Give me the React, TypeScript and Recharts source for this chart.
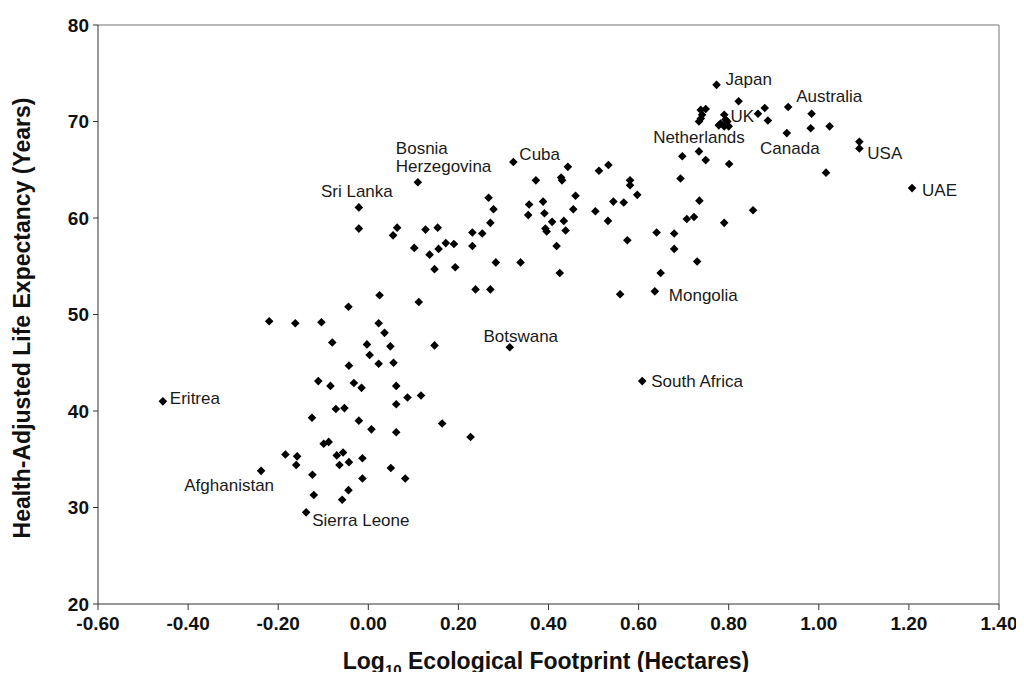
import React from "react";
import {
  ScatterChart,
  Scatter,
  XAxis,
  YAxis,
  ReferenceLine,
} from "recharts";

// log10 ecological footprint (hectares), health-adjusted life expectancy (years)
const countries: [number, number][] = [
  [-0.22, 49.3], [-0.162, 49.1], [-0.104, 49.2], [-0.044, 50.8], [0.023, 49.1],
  [0.025, 52.0], [0.036, 48.1], [-0.08, 47.1], [-0.003, 46.9], [0.003, 45.8],
  [0.023, 44.9], [0.049, 46.7], [0.056, 45.0], [-0.043, 44.7], [-0.111, 43.1],
  [-0.084, 42.6], [-0.032, 42.9], [-0.015, 42.4], [0.062, 42.6], [0.062, 40.7],
  [-0.072, 40.2], [-0.053, 40.3], [-0.125, 39.3], [-0.021, 39.0], [0.007, 38.1],
  [0.062, 37.8], [-0.099, 36.6], [-0.088, 36.8], [-0.184, 35.5], [-0.158, 35.3],
  [-0.16, 34.4], [-0.07, 35.4], [-0.056, 35.7], [-0.064, 34.4], [-0.043, 34.7],
  [-0.013, 35.1], [-0.124, 33.4], [-0.013, 33.0], [-0.121, 31.3], [-0.044, 31.8],
  [-0.058, 30.8], [0.05, 34.1], [0.082, 33.0], [0.112, 51.3], [0.147, 46.8],
  [0.087, 41.4], [0.117, 41.6], [0.164, 38.7], [0.227, 37.3],
  [-0.021, 58.9], [0.064, 59.0], [0.055, 58.2], [0.127, 58.8], [0.154, 59.0],
  [0.102, 56.9], [0.136, 56.2], [0.156, 56.8], [0.172, 57.4], [0.19, 57.3],
  [0.147, 54.7], [0.193, 54.9], [0.231, 58.5], [0.253, 58.4], [0.231, 57.1],
  [0.267, 62.1], [0.278, 60.9], [0.271, 59.5], [0.283, 55.4], [0.338, 55.4],
  [0.238, 52.6], [0.271, 52.6], [0.372, 63.9], [0.357, 61.4], [0.355, 60.3],
  [0.443, 65.3], [0.428, 64.2], [0.43, 63.9], [0.512, 64.9], [0.533, 65.5],
  [0.581, 63.9], [0.581, 63.4], [0.597, 62.4], [0.46, 62.3], [0.388, 61.7],
  [0.455, 60.9], [0.544, 61.7], [0.567, 61.6], [0.504, 60.7], [0.532, 59.7],
  [0.391, 60.5], [0.408, 59.6], [0.434, 59.7], [0.438, 58.7], [0.393, 58.9],
  [0.396, 58.6], [0.418, 57.1], [0.575, 57.7], [0.425, 54.3], [0.559, 52.1],
  [0.649, 54.3], [0.64, 58.5], [0.679, 58.4], [0.679, 56.8], [0.73, 55.5],
  [0.693, 64.1], [0.735, 61.8], [0.707, 59.9], [0.723, 60.1], [0.79, 59.5],
  [0.801, 65.6], [1.016, 64.7], [0.854, 60.8], [0.822, 72.1], [0.88, 71.4],
  [0.865, 70.8], [0.887, 70.1], [0.984, 70.8], [0.982, 69.3], [1.024, 69.5],
  [1.09, 67.9], [0.749, 66.0], [0.697, 66.4],
  [0.738, 71.2], [0.749, 71.3], [0.741, 70.7], [0.734, 70.0], [0.738, 70.3],
  [0.79, 70.7], [0.782, 69.8], [0.8, 69.5], [0.797, 70.0], [0.778, 69.6], [0.79, 69.5],
];

const namedNames = [
  "Japan", "Australia", "UK", "Netherlands", "Canada", "USA", "UAE",
  "Bosnia Herzegovina", "Sri Lanka", "Cuba", "Mongolia", "Botswana",
  "South Africa", "Eritrea", "Afghanistan", "Sierra Leone",
];
const namedFootprint = [
  0.773, 0.932, 0.793, 0.734, 0.929, 1.09, 1.207,
  0.11, -0.021, 0.322, 0.636, 0.314,
  0.608, -0.456, -0.238, -0.138,
];
const namedHale = [
  73.8, 71.5, 70.2, 66.9, 68.8, 67.2, 63.1,
  63.7, 61.1, 65.8, 52.4, 46.6,
  43.1, 41.0, 33.8, 29.5,
];

const xTicks = [-0.6, -0.4, -0.2, 0, 0.2, 0.4, 0.6, 0.8, 1.0, 1.2, 1.4];
const yTicks = [20, 30, 40, 50, 60, 70, 80];

// where each label sits relative to its marker (px)
const labelPos: Record<string, { dx: number; dy: number; anchor: string }> = {
  Japan: { dx: 9, dy: -5, anchor: "start" },
  Australia: { dx: 8, dy: -11, anchor: "start" },
  UK: { dx: 5, dy: -3, anchor: "start" },
  Netherlands: { dx: 0, dy: -14, anchor: "middle" },
  Canada: { dx: 3, dy: 15, anchor: "middle" },
  USA: { dx: 8, dy: 5, anchor: "start" },
  UAE: { dx: 10, dy: 2, anchor: "start" },
  "Bosnia Herzegovina": { dx: -22, dy: -34, anchor: "start" },
  "Sri Lanka": { dx: -2, dy: -16, anchor: "middle" },
  Cuba: { dx: 6, dy: -8, anchor: "start" },
  Mongolia: { dx: 14, dy: 4, anchor: "start" },
  Botswana: { dx: 11, dy: -11, anchor: "middle" },
  "South Africa": { dx: 9, dy: 0, anchor: "start" },
  Eritrea: { dx: 7, dy: -3, anchor: "start" },
  Afghanistan: { dx: 13, dy: 15, anchor: "end" },
  "Sierra Leone": { dx: 6, dy: 8, anchor: "start" },
};

const FONT = "'Liberation Sans', Arial, Helvetica, sans-serif";
const R = 4.3;

const pointData = countries.map(([x, y]) => ({ x, y }));
const namedData = namedNames.map((name, i) => ({
  name,
  x: namedFootprint[i],
  y: namedHale[i],
}));

const Diamond = (props: any) => {
  const { cx, cy } = props;
  return (
    <path
      d={`M${cx},${cy - R}L${cx + R},${cy}L${cx},${cy + R}L${cx - R},${cy}Z`}
      fill="#000"
    />
  );
};

const NamedDiamond = (props: any) => {
  const { cx, cy, payload } = props;
  const name: string = payload.name;
  const p = labelPos[name];
  const lines = name === "Bosnia Herzegovina" ? ["Bosnia", "Herzegovina"] : [name];
  return (
    <g>
      <path
        d={`M${cx},${cy - R}L${cx + R},${cy}L${cx},${cy + R}L${cx - R},${cy}Z`}
        fill="#000"
      />
      {lines.map((t, i) => (
        <text
          key={t}
          x={cx + p.dx}
          y={cy + p.dy + i * 18}
          textAnchor={p.anchor as any}
          dominantBaseline="central"
          fontFamily={FONT}
          fontSize={17}
          fill="#1a1a1a"
        >
          {t}
        </text>
      ))}
    </g>
  );
};

const tickStyle = {
  fontFamily: FONT,
  fontSize: 19,
  fontWeight: "bold" as const,
  fill: "#111",
};

const App = () => {
  return (
    <div style={{ position: "relative", width: 1016, height: 664, fontFamily: FONT }}>
      <ScatterChart
        width={1016}
        height={664}
        margin={{ top: 17, right: 25, bottom: 38, left: 30 }}
      >
        <XAxis
          type="number"
          dataKey="x"
          domain={[-0.6, 1.4]}
          ticks={xTicks}
          tickFormatter={(v: number) => v.toFixed(2)}
          stroke="#333"
          tickSize={6}
          tickMargin={7}
          tick={tickStyle}
          height={30}
          allowDataOverflow
        />
        <YAxis
          type="number"
          dataKey="y"
          domain={[20, 80]}
          ticks={yTicks}
          stroke="#333"
          tickSize={5}
          tickMargin={4}
          tick={tickStyle}
          width={60}
          allowDataOverflow
        />
        <ReferenceLine y={80} stroke="#a0a0a0" strokeWidth={1.5} />
        <ReferenceLine x={1.4} stroke="#a0a0a0" strokeWidth={1.5} />
        <Scatter data={pointData} shape={<Diamond />} isAnimationActive={false} />
        <Scatter data={namedData} shape={<NamedDiamond />} isAnimationActive={false} />
      </ScatterChart>
      <div
        style={{
          position: "absolute",
          left: 14,
          top: 310,
          transform: "translate(-50%, -50%) rotate(-90deg)",
          whiteSpace: "nowrap",
          fontSize: 23,
          fontWeight: "bold",
          color: "#111",
          lineHeight: 1,
        }}
      >
        Health-Adjusted Life Expectancy (Years)
      </div>
      <div
        style={{
          position: "absolute",
          left: 538,
          top: 653,
          transform: "translate(-50%, -50%)",
          whiteSpace: "nowrap",
          fontSize: 23,
          fontWeight: "bold",
          color: "#111",
          lineHeight: 1,
        }}
      >
        Log
        <span style={{ fontSize: 15, position: "relative", top: 6 }}>10</span>{" "}
        Ecological Footprint (Hectares)
      </div>
    </div>
  );
};

export default App;
